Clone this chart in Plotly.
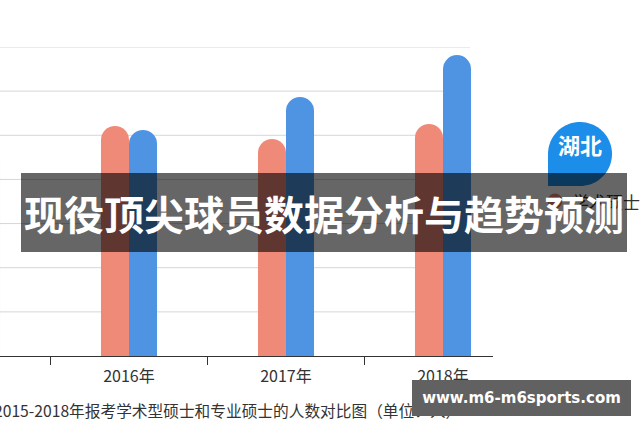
import numpy as np
import plotly.graph_objects as go

# ---- data ----
years = ["2015年", "2016年", "2017年", "2018年"]
academic = [24000, 26050, 24580, 26280]       # 学术硕士
professional = [23790, 25600, 29340, 34090]   # 专业硕士
grid_values = [5000, 10000, 15000, 20000, 25000, 30000, 35000]

title_text = "现役顶尖球员数据分析与趋势预测"
caption_text = "2015-2018年报考学术型硕士和专业硕士的人数对比图（单位：人）"
region_text = "湖北"
legend_text = "学术硕士"
watermark_text = "www.m6-m6sports.com"

FONT = "Noto Sans CJK SC"
RED = "#f08a78"
BLUE = "#4f94e2"

# pixel -> paper helpers (plot area x: 0..493, y: 47..356)
PL, PR, PT, PB = 0, 493, 47, 356
def px(x):
    return (x - PL) / (PR - PL)
def py(y):
    return (PB - y) / (PB - PT)

fig = go.Figure()
fig.add_trace(go.Bar(x=years, y=academic, name="学术硕士", marker_color=RED,
                     marker_cornerradius=14, marker_line_width=0, showlegend=False))
fig.add_trace(go.Bar(x=years, y=professional, name="专业硕士", marker_color=BLUE,
                     marker_cornerradius=14, marker_line_width=0, showlegend=False))

shapes = []
# horizontal grid lines
for v in grid_values:
    shapes.append(dict(type="line", xref="paper", yref="y", x0=0, x1=px(470), y0=v, y1=v,
                       line=dict(color="#d6d6d6", width=1), layer="below"))

# legend dot
cx, cy, r = 555, 201, 7.5
shapes.append(dict(type="circle", xref="paper", yref="paper",
                   x0=px(cx - r), x1=px(cx + r), y0=py(cy + r), y1=py(cy - r),
                   fillcolor=RED, line_width=0, layer="above"))

# "湖北" bubble (teardrop: 3/4 circle + square bottom-left corner)
bx, by, br = 580, 154, 32
th = np.linspace(np.pi / 2, -np.pi, 60)
pts = [(bx - br, by), (bx - br, by + br), (bx, by + br)]
pts += [(bx + br * np.cos(t), by + br * np.sin(t)) for t in th]
path = "M " + " L ".join(f"{px(x):.5f},{py(y):.5f}" for x, y in pts) + " Z"
shapes.append(dict(type="path", xref="paper", yref="paper", path=path,
                   fillcolor="#1c8de8", line_width=0, layer="above"))

annotations = [
    # legend text (under the banner)
    dict(text=legend_text, xref="paper", yref="paper", x=px(570), y=py(201),
         xanchor="left", yanchor="middle", showarrow=False,
         font=dict(family=FONT, size=17, color="#333333")),
    # bubble label
    dict(text="<b>" + region_text + "</b>", xref="paper", yref="paper", x=px(580), y=py(144),
         xanchor="center", yanchor="middle", showarrow=False,
         font=dict(family=FONT, size=22, color="white")),
    # caption
    dict(text=caption_text, xref="paper", yref="paper", x=px(-8), y=py(410),
         xanchor="left", yanchor="middle", showarrow=False,
         font=dict(family=FONT, size=15.7, color="#333333")),
    # banner with title
    dict(text="<b>" + title_text + "</b>", xref="paper", yref="paper",
         x=px(324), y=py(212.5), xanchor="center", yanchor="middle", showarrow=False,
         width=606, height=79, borderpad=0, borderwidth=0,
         bgcolor="rgba(0,0,0,0.6)",
         font=dict(family=FONT, size=40, color="white")),
    # watermark
    dict(text="<b>" + watermark_text + "</b>", xref="paper", yref="paper",
         x=px(521.5), y=py(398), xanchor="center", yanchor="middle", showarrow=False,
         width=219, height=36, borderpad=0, borderwidth=0, bgcolor="#616161",
         font=dict(family="DejaVu Sans", size=15, color="white")),
]

fig.update_layout(
    width=640, height=426,
    margin=dict(l=PL, r=640 - PR, t=PT, b=426 - PB),
    paper_bgcolor="white", plot_bgcolor="white",
    barmode="group", bargap=0.643, bargroupgap=0,
    shapes=shapes, annotations=annotations,
    showlegend=False,
    font=dict(family=FONT, color="#333333"),
)
fig.update_xaxes(type="category", range=[1 - 129 / 157, 1 + 364 / 157],
                 tickson="boundaries", ticks="outside", ticklen=8, tickcolor="#333333",
                 ticklabelstandoff=6,
                 showline=True, linecolor="#333333", linewidth=1, showgrid=False,
                 tickfont=dict(family=FONT, size=16, color="#333333"))
fig.update_yaxes(range=[0, 35000], showgrid=False, zeroline=False,
                 showticklabels=False, showline=False)

fig.write_html("out.html", config={"displayModeBar": False},
               post_script="document.body.style.margin='0px';document.body.style.overflow='hidden';")
